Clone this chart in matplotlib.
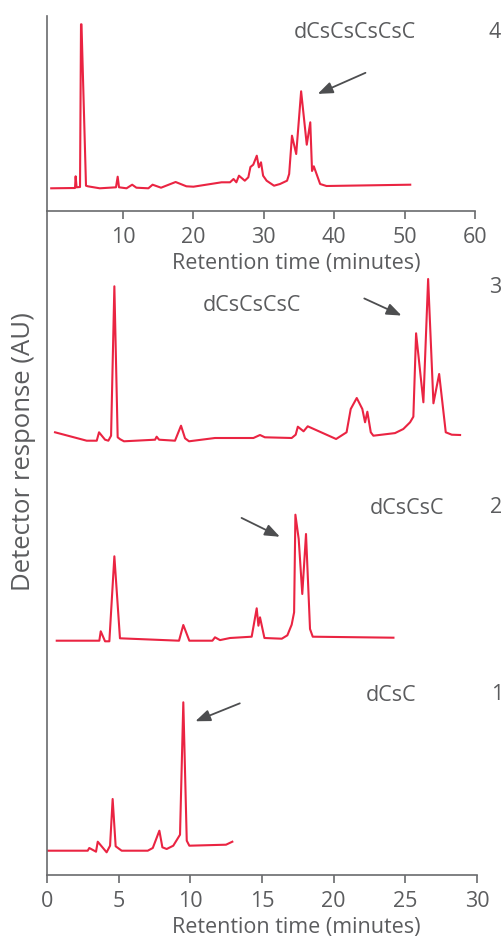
import matplotlib
matplotlib.use("Agg")
import matplotlib.pyplot as plt

plt.rcParams['font.family'] = ['Open Sans', 'DejaVu Sans']

# ---------------- data ----------------
# Trace 4: dCsCsCsCsC (0-60 min panel)
t4 = [-0.2, 3.18, 3.27, 3.4, 3.89, 4.03, 4.1, 4.74, 5.0, 6.7, 9.0, 9.24, 9.43, 10.5, 11.3, 11.9,
      13.6, 14.2, 15.4, 17.47, 19.0, 20.0, 24.0, 25.2, 25.7, 26.1, 26.47, 27.3, 27.8, 28.1, 28.5,
      29.0, 29.3, 29.6, 29.9, 30.4, 31.45, 32.3, 33.3, 33.6, 34.0, 34.6, 35.3, 36.1, 36.6, 36.85,
      37.1, 38.0, 38.9, 50.8]
r4 = [0, 0.3, 12, 1, 1.3, 164, 164, 2.6, 2, 0, 1, 11.6, 1, 0, 3.6, 0.6,
      0, 3.6, 0.6, 6.3, 2, 1.6, 6, 6, 9.3, 6, 12.6, 7.6, 11, 21.3, 23.6,
      32.6, 21, 26, 12.6, 7.6, 2.6, 4.3, 7.6, 14.3, 52.6, 34.3, 97, 43.6, 66, 17.3,
      22, 4.3, 2.3, 3.6]

# Trace 3: dCsCsCsC
t3 = [0.56, 2.77, 3.47, 3.63, 4.05, 4.28, 4.47, 4.70, 4.93, 5.1, 5.37, 7.54, 7.65, 7.82, 8.93,
      9.35, 9.63, 9.91, 11.72, 14.4, 14.86, 15.2, 17.07, 17.35, 17.5, 17.9, 18.19, 20.17, 20.9,
      21.19, 21.61, 22.0, 22.19, 22.35, 22.59, 22.77, 24.28, 24.86, 25.33, 25.56, 25.75, 26.26,
      26.59, 26.96, 27.36, 27.82, 28.24, 28.82]
r3 = [8.4, 0, 0, 8.4, 1, 0, 5, 154.4, 3.4, 1.5, -0.6, 1, 4, 1, 0,
      15, 2.4, -0.6, 2.7, 2.7, 5.7, 3.4, 2.7, 6, 14, 9.4, 14.4, 1.7, 8.4,
      31.7, 42.7, 31.7, 18.4, 29, 8.4, 5, 7.6, 11.7, 18.4, 24, 107.4, 38.4,
      161.7, 37.4, 66.7, 8.4, 6, 5.7]

# Trace 2: dCsCsC
t2 = [0.68, 3.65, 3.75, 4.05, 4.35, 4.70, 5.09, 9.21, 9.51, 9.93, 11.54, 11.72, 12.07, 12.77,
      14.28, 14.63, 14.75, 14.86, 15.17, 16.38, 16.77, 17.07, 17.24, 17.33, 17.56, 17.81, 18.07,
      18.35, 18.54, 24.17]
r2 = [0, 0, 9.4, -0.6, -0.6, 84.4, 2.4, 0, 15.7, 0, 0, 3.4, 0.6, 2.7,
      4, 32.4, 15, 23.4, 2.7, 2, 5.4, 16, 28.4, 126, 101.7, 46.7, 106.7,
      11.7, 4, 3]

# Trace 1: dCsC
t1 = [0.05, 2.84, 2.95, 3.42, 3.54, 4.16, 4.40, 4.58, 4.79, 5.21, 7.03, 7.38, 7.84, 8.05, 8.35,
      8.81, 9.28, 9.51, 9.75, 9.93, 12.49, 12.93]
r1 = [0, 0, 2.7, -1, 9, -1.6, 5, 51.7, 4.4, 0, 0, 2.7, 20, 3.4, 1.7,
      5, 16, 148.4, 10, 5, 6, 9]

labels = ["dCsC", "dCsCsC", "dCsCsCsC", "dCsCsCsCsC"]
numbers = ["1", "2", "3", "4"]

top_ticks = [10, 20, 30, 40, 50, 60]
bottom_ticks = [0, 5, 10, 15, 20, 25, 30]
xlabel = "Retention time (minutes)"
ylabel = "Detector response (AU)"

# ---------------- style ----------------
RED = "#ea2442"
TXT = "#5b5c5e"
AX = "#6a6b6d"
ARW = "#4d4e50"
FS = 15.5

W, H = 504, 937
fig = plt.figure(figsize=(W / 100, H / 100), dpi=100)

def fx(px):
    return px / W

def fy(py):
    return 1 - py / H

def style(ax):
    ax.patch.set_visible(False)
    for s in ["top", "right"]:
        ax.spines[s].set_visible(False)
    for s in ["left", "bottom"]:
        ax.spines[s].set_color(AX)
        ax.spines[s].set_linewidth(1.2)
    ax.tick_params(axis="x", colors=AX, labelcolor=TXT, labelsize=FS, length=6, width=1.2, pad=4.5)
    ax.set_yticks([])

# top axes (0-60 min)
ax_t = fig.add_axes([fx(47), fy(212), fx(475 - 47), (212 - 17) / H])
style(ax_t)
ax_t.set_xlim(-0.8, 60)
ax_t.set_ylim(0, 195)
ax_t.set_xticks(top_ticks)
ax_t.set_xlabel(xlabel, color=TXT, fontsize=FS, labelpad=4)
ax_t.xaxis.label.set_x((296 - 47) / (475 - 47))
off4 = 22.7
ax_t.plot(t4, [v + off4 for v in r4], color=RED, lw=1.5)
ax_t.annotate("", xy=(37.3, 212 - 96), xytext=(44.8, 212 - 72.7),
              arrowprops=dict(arrowstyle="-|>,head_length=0.9,head_width=0.35", color=ARW, lw=1.3))
ax_t.text(43.0, 212 - 32, labels[3], color=TXT, fontsize=FS, ha="center", va="center")
ax_t.text(62.8, 212 - 32, numbers[3], color=TXT, fontsize=FS, ha="center", va="center", clip_on=False)

# bottom axes (0-30 min)
ax_b = fig.add_axes([fx(47), fy(876), fx(477 - 47), (876 - 212) / H])
style(ax_b)
ax_b.set_xlim(0, 30)
ax_b.set_ylim(0, 664)
ax_b.set_xticks(bottom_ticks)
ax_b.set_xlabel(xlabel, color=TXT, fontsize=FS, labelpad=4)
ax_b.xaxis.label.set_x((296 - 47) / (477 - 47))

offsets = [876 - 851.7, 876 - 641.7, 876 - 441.7]
for t, r, off in zip([t1, t2, t3], [r1, r2, r3], offsets):
    ax_b.plot(t, [v + off for v in r], color=RED, lw=1.5)

arrows = [((10.17, 876 - 723.3), (13.63, 876 - 703.3)),
          ((16.42, 876 - 539.0), (13.4, 876 - 517.7)),
          ((24.91, 876 - 317.7), (21.96, 876 - 298.3))]
for tip, tail in arrows:
    ax_b.annotate("", xy=tip, xytext=tail,
                  arrowprops=dict(arrowstyle="-|>,head_length=0.9,head_width=0.35", color=ARW, lw=1.3))

label_pos = [(24.0, 876 - 695.7), (25.14, 876 - 508.3), (14.28, 876 - 306)]
num_pos = [(31.4, 876 - 695), (31.3, 876 - 508), (31.3, 876 - 288)]
for i in range(3):
    ax_b.text(*label_pos[i], labels[i], color=TXT, fontsize=FS, ha="center", va="center")
    ax_b.text(*num_pos[i], numbers[i], color=TXT, fontsize=FS, ha="center", va="center", clip_on=False)

fig.text(fx(24), fy(452), ylabel, color=TXT, fontsize=18.5, rotation=90, ha="center", va="center")

fig.savefig("out.png", dpi=100)
